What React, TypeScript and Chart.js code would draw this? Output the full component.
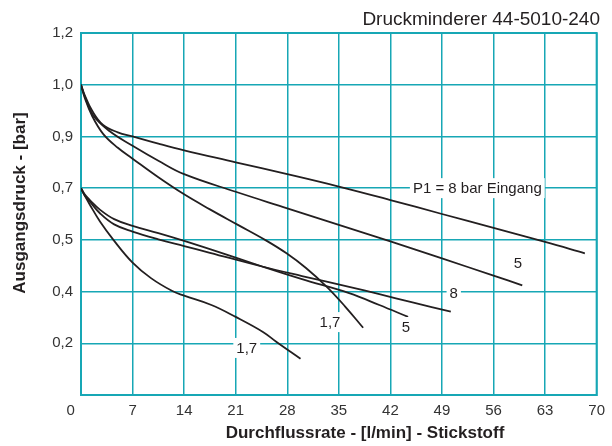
import React, { useEffect, useRef } from 'react';
import { Chart, registerables } from 'chart.js';

Chart.register(...registerables);

const FONT = '"Liberation Sans", Arial, sans-serif';
const TEAL = '#17a7b5';
const INK = '#231f20';

// Axis tick values (the y axis is drawn with equally spaced, non-linear tick values)
const Y_TICKS = [0, 0.2, 0.4, 0.5, 0.7, 0.9, 1.0, 1.2];
const X_TICKS = [0, 7, 14, 21, 28, 35, 42, 49, 56, 63, 70];

const TITLE = 'Druckminderer 44-5010-240';
const X_TITLE = 'Durchflussrate - [l/min] - Stickstoff';
const Y_TITLE = 'Ausgangsdruck - [bar]';

// Upper group (starting at 1,0 bar)
const A_X = [0, 0.5, 1.5, 3, 5, 7, 10.5, 14, 21, 28, 35, 42, 49, 56, 63, 68.4];
const A_Y = [1.0, 0.98, 0.95, 0.922, 0.908, 0.9, 0.872, 0.846, 0.8, 0.754, 0.706, 0.654, 0.6, 0.546, 0.496, 0.474];

const B_X = [0, 0.5, 1.7, 3.9, 7, 10.5, 14, 21, 28, 35, 42, 49, 56, 59.9];
const B_Y = [1.0, 0.978, 0.94, 0.91, 0.864, 0.806, 0.754, 0.686, 0.622, 0.558, 0.497, 0.464, 0.431, 0.412];

const C_X = [0, 0.5, 1.5, 3, 5, 7, 10.5, 14, 17.5, 21.3, 25.1, 27.9, 30.5, 33.3, 35.8, 38.3];
const C_Y = [1.0, 0.975, 0.94, 0.905, 0.856, 0.814, 0.742, 0.676, 0.618, 0.558, 0.499, 0.474, 0.446, 0.41, 0.344, 0.26];

// Lower group (starting at 0,7 bar)
const D_X = [0, 0.5, 1.2, 2.6, 4.5, 7, 10.5, 14, 17.5, 24.7, 30, 36.4, 40.5, 45, 50.2];
const D_Y = [0.7, 0.672, 0.648, 0.602, 0.56, 0.532, 0.502, 0.488, 0.475, 0.448, 0.43, 0.409, 0.39, 0.358, 0.322];

const E_X = [0, 0.5, 1.2, 2.6, 4.5, 7, 10.5, 14, 17.5, 24.7, 30, 36.4, 40.5, 44.4];
const E_Y = [0.7, 0.676, 0.654, 0.616, 0.58, 0.554, 0.526, 0.498, 0.482, 0.448, 0.424, 0.394, 0.348, 0.302];

const F_X = [0, 0.5, 1.2, 2.6, 4.4, 7, 9.5, 12.4, 14, 17.7, 21, 24.7, 26.5, 29.8];
const F_Y = [0.7, 0.672, 0.636, 0.57, 0.5, 0.456, 0.426, 0.401, 0.384, 0.348, 0.302, 0.244, 0.206, 0.14];

const SERIES_X = [A_X, B_X, C_X, D_X, E_X, F_X];
const SERIES_Y = [A_Y, B_Y, C_Y, D_Y, E_Y, F_Y];

// Curve labels, anchored in data space (x in l/min, y in bar)
const LABEL_TEXT = ['P1 = 8 bar Eingang', '5', '8', '5', '1,7', '1,7'];
const LABEL_X = [53.8, 59.3, 50.6, 44.1, 33.8, 22.5];
const LABEL_Y = [0.7, 0.455, 0.394, 0.263, 0.282, 0.182];

// map a bar value onto the equally spaced tick grid
function toGrid(v: number): number {
  for (let i = 0; i < Y_TICKS.length - 1; i++) {
    const a = Y_TICKS[i];
    const b = Y_TICKS[i + 1];
    if (v <= b || i === Y_TICKS.length - 2) {
      return i + (v - a) / (b - a);
    }
  }
  return 0;
}

function fmt(v: number): string {
  return v.toFixed(1).replace('.', ',');
}

export default function App() {
  const ref = useRef<HTMLCanvasElement | null>(null);

  useEffect(() => {
    const canvas = ref.current;
    if (!canvas) return;

    const datasets = SERIES_X.map((xs, i) => ({
      data: xs.map((x, j) => ({ x, y: toGrid(SERIES_Y[i][j]) })),
      borderColor: INK,
      borderWidth: 1.8,
      pointRadius: 0,
      fill: false,
      tension: 0.4,
    }));

    const framePlugin = {
      id: 'frame',
      beforeDatasetsDraw(chart: any) {
        const { ctx, chartArea: a } = chart;
        ctx.save();
        ctx.strokeStyle = TEAL;
        ctx.lineWidth = 2;
        ctx.strokeRect(a.left, a.top, a.right - a.left, a.bottom - a.top);
        ctx.restore();
      },
    };

    const labelPlugin = {
      id: 'curveLabels',
      afterDatasetsDraw(chart: any) {
        const { ctx } = chart;
        const xs = chart.scales.x;
        const ys = chart.scales.y;
        ctx.save();
        ctx.font = `15px ${FONT}`;
        ctx.textAlign = 'center';
        ctx.textBaseline = 'middle';
        LABEL_TEXT.forEach((t, i) => {
          const px = xs.getPixelForValue(LABEL_X[i]);
          const py = ys.getPixelForValue(toGrid(LABEL_Y[i]));
          const w = ctx.measureText(t).width;
          ctx.fillStyle = '#ffffff';
          ctx.fillRect(px - w / 2 - 3, py - 10, w + 6, 20);
          ctx.fillStyle = INK;
          ctx.fillText(t, px, py + 1);
        });
        ctx.restore();
      },
    };

    const titlePlugin = {
      id: 'titles',
      afterDraw(chart: any) {
        const { ctx } = chart;
        ctx.save();
        ctx.fillStyle = INK;
        ctx.font = `19px ${FONT}`;
        ctx.textAlign = 'right';
        ctx.textBaseline = 'alphabetic';
        ctx.fillText(TITLE, 600, 25);

        ctx.font = `bold 17px ${FONT}`;
        ctx.textAlign = 'center';
        ctx.textBaseline = 'middle';
        ctx.fillText(X_TITLE, 365, 433);

        ctx.translate(20.5, 203);
        ctx.rotate(-Math.PI / 2);
        ctx.fillText(Y_TITLE, 0, 0);
        ctx.restore();
      },
    };

    const chart = new Chart(canvas, {
      type: 'line',
      data: { datasets },
      options: {
        animation: false,
        responsive: false,
        devicePixelRatio: 1,
        layout: { padding: { left: 0, top: 33, right: 14, bottom: 0 } },
        plugins: { legend: { display: false }, tooltip: { enabled: false }, title: { display: false } },
        scales: {
          x: {
            type: 'linear',
            min: 0,
            max: 70,
            afterFit(scale: any) {
              scale.height = 51;
            },
            afterBuildTicks(scale: any) {
              scale.ticks = X_TICKS.map((v) => ({ value: v }));
            },
            ticks: {
              autoSkip: false,
              maxRotation: 0,
              padding: 7,
              color: '#333333',
              font: { family: FONT, size: 15 },
              callback: (v: any) => (Number(v) === 0 ? '0     ' : String(v)),
            },
            grid: { color: TEAL, lineWidth: 1.5, drawTicks: false },
            border: { display: true, color: TEAL, width: 2 },
          },
          y: {
            type: 'linear',
            min: 0,
            max: Y_TICKS.length - 1,
            afterFit(scale: any) {
              scale.width = 81;
            },
            afterBuildTicks(scale: any) {
              scale.ticks = Y_TICKS.map((_, i) => ({ value: i }));
            },
            ticks: {
              autoSkip: false,
              padding: 8,
              color: '#333333',
              font: { family: FONT, size: 15 },
              callback: (v: any) => (Number(v) === 0 ? '' : fmt(Y_TICKS[Number(v)])),
            },
            grid: { color: TEAL, lineWidth: 1.5, drawTicks: false },
            border: { display: true, color: TEAL, width: 2 },
          },
        },
      },
      plugins: [framePlugin, labelPlugin, titlePlugin],
    } as any);

    return () => chart.destroy();
  }, []);

  return (
    <div style={{ position: 'fixed', left: 0, top: 0, width: 612, height: 446, background: '#ffffff' }}>
      <canvas ref={ref} width={612} height={446} style={{ display: 'block' }} />
    </div>
  );
}
